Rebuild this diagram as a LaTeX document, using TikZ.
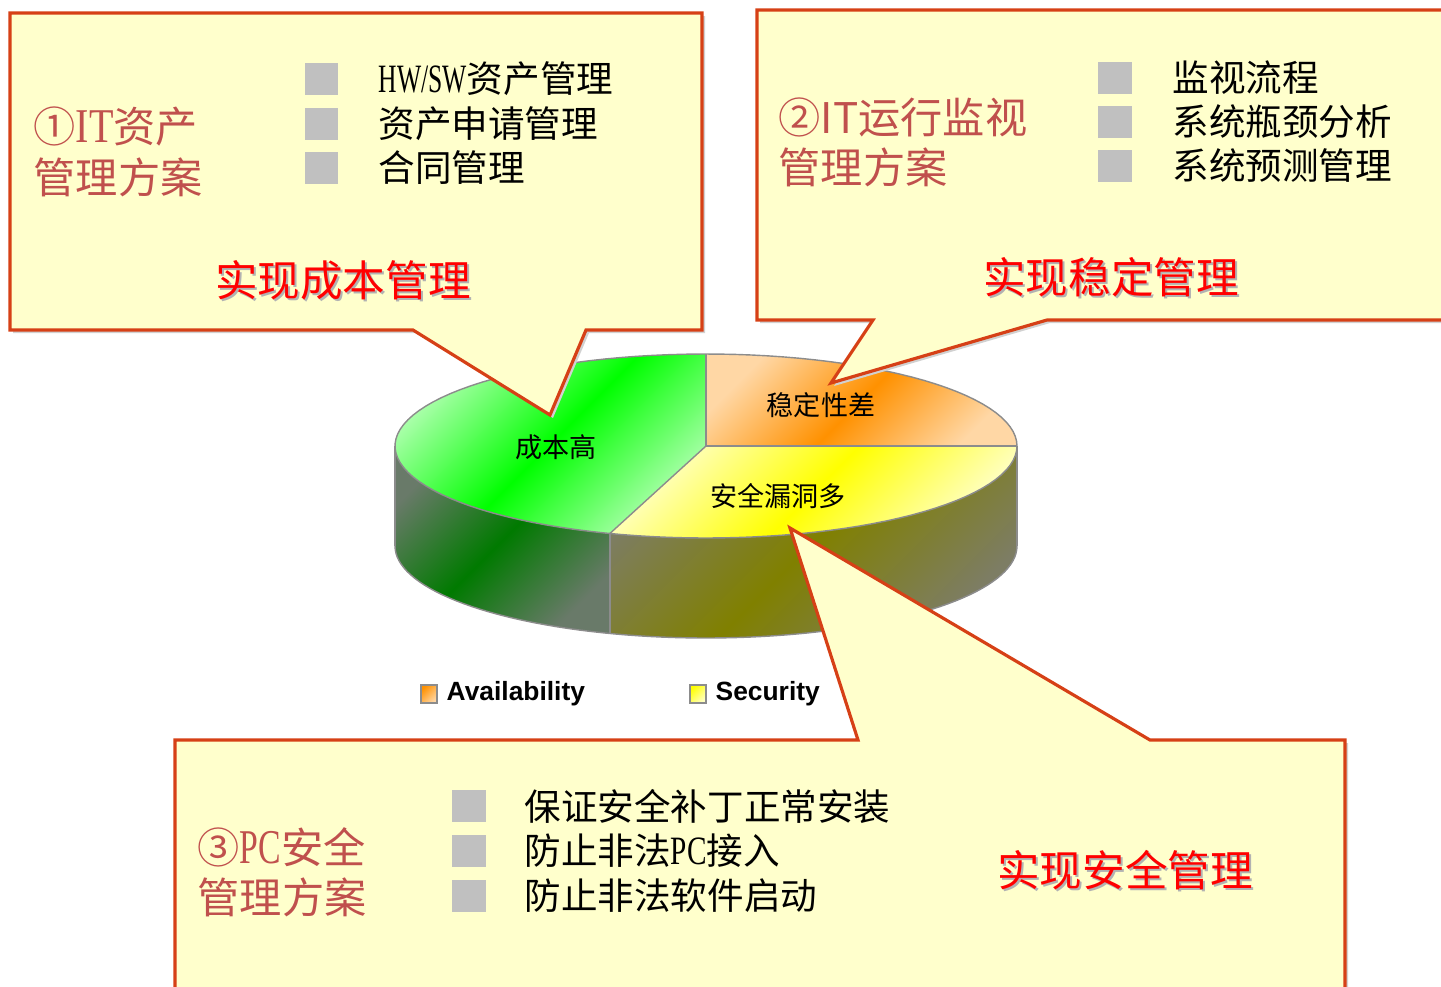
\documentclass[tikz,border=0pt]{standalone}
\usepackage{fontspec}
\usepackage{graphicx}
\setmainfont{Noto Sans CJK SC}
\newfontfamily\serifl{Liberation Serif}
\newfontfamily\arialf{Liberation Sans}
\definecolor{boxfill}{RGB}{255,255,204}
\definecolor{boxline}{RGB}{214,64,22}
\definecolor{titlec}{RGB}{192,80,77}
\definecolor{bulletc}{RGB}{192,192,192}
\definecolor{grnA}{RGB}{0,255,0}
\definecolor{grnL}{RGB}{175,255,175}
\definecolor{ornA}{RGB}{255,145,0}
\definecolor{ornL}{RGB}{255,215,165}
\definecolor{yelA}{RGB}{255,255,0}
\definecolor{yelL}{RGB}{255,255,195}
\definecolor{sgrnA}{RGB}{0,122,0}
\definecolor{sgrnL}{RGB}{105,122,105}
\definecolor{solvA}{RGB}{128,128,0}
\definecolor{solvL}{RGB}{125,125,100}
\definecolor{redt}{RGB}{255,0,0}
\tikzset{
  callout/.style={fill=boxfill, draw=boxline, line width=0.9pt, line join=miter},
  calloutshadow/.style={fill=black!18, xshift=0.03cm, yshift=-0.03cm},
  titletext/.style={anchor=west, text=titlec, font=\fontsize{12}{14}\selectfont, inner sep=0pt},
  itemtext/.style={anchor=west, text=black, font=\fontsize{10.4}{12}\selectfont, inner sep=0pt},
  goaltext/.style={text=redt, font=\fontsize{12.1}{14}\selectfont, inner sep=0pt},
  goalshadow/.style={text=black!30, font=\fontsize{12.1}{14}\selectfont, inner sep=0pt},
  bulletbox/.style={fill=bulletc, draw=none},
  pielabel/.style={text=black, font=\fontsize{7.7}{9}\selectfont, inner sep=0pt},
  legendtext/.style={anchor=west, text=black, font=\arialf\bfseries\fontsize{7.5}{9}\selectfont, inner sep=0pt},
  pieedge/.style={draw=black!45, line width=0.4pt},
}
\begin{document}
\begin{tikzpicture}[x=0.01cm,y=-0.01cm]
\useasboundingbox (0,0) rectangle (1441,987);
\clip (0,0) rectangle (1441,987);

% ---------- pie: side walls ----------
\shade[left color=sgrnL, right color=sgrnL, middle color=sgrnA, shading angle=45]
  plot[domain=108:180,samples=40,variable=\t] ({706+311*cos(\t)},{446+92*sin(\t)})
  -- plot[domain=180:108,samples=40,variable=\t] ({706+311*cos(\t)},{546+92*sin(\t)}) -- cycle;
\shade[left color=solvL, right color=solvL, middle color=solvA, shading angle=45]
  plot[domain=0:108,samples=40,variable=\t] ({706+311*cos(\t)},{446+92*sin(\t)})
  -- plot[domain=108:0,samples=40,variable=\t] ({706+311*cos(\t)},{546+92*sin(\t)}) -- cycle;
\draw[pieedge] plot[domain=0:180,samples=80,variable=\t] ({706+311*cos(\t)},{546+92*sin(\t)});
\draw[pieedge] (1017,446) -- (1017,546);
\draw[pieedge] (395,446) -- (395,546);
\draw[pieedge] ({706+311*cos(108)},{446+92*sin(108)}) -- ({706+311*cos(108)},{546+92*sin(108)});

% ---------- pie: top ----------
\shade[left color=grnL, right color=grnL, middle color=grnA, shading angle=45]
  (706,446) -- plot[domain=108:270,samples=60,variable=\t] ({706+311*cos(\t)},{446+92*sin(\t)}) -- cycle;
\shade[left color=ornL, right color=ornL, middle color=ornA, shading angle=45]
  (706,446) -- plot[domain=-90:0,samples=40,variable=\t] ({706+311*cos(\t)},{446+92*sin(\t)}) -- cycle;
\shade[left color=yelL, right color=yelL, middle color=yelA, shading angle=45]
  (706,446) -- plot[domain=0:108,samples=40,variable=\t] ({706+311*cos(\t)},{446+92*sin(\t)}) -- cycle;
\draw[pieedge] plot[domain=0:360,samples=120,variable=\t] ({706+311*cos(\t)},{446+92*sin(\t)});
\draw[pieedge] (706,354) -- (706,446) -- (1017,446);
\draw[pieedge] (706,446) -- ({706+311*cos(108)},{446+92*sin(108)});

\node[pielabel] (lblcost) at (556,447) {成本高};
\node[pielabel] (lblstab) at (821,405) {稳定性差};
\node[pielabel] (lblsec)  at (778,496) {安全漏洞多};

% ---------- legend ----------
\shade[left color=ornA, right color=ornL, shading angle=45, draw=black!45, line width=0.3pt] (421,685) rectangle (437,703);
\node[legendtext] (legA) at (446,694) {Availability};
\shade[left color=yelA, right color=yelL, shading angle=45, draw=black!45, line width=0.3pt] (690,685) rectangle (706,703);
\node[legendtext] (legS) at (715,694) {Security};

% ---------- callout 1 ----------
\fill[calloutshadow] (10,13) -- (702,13) -- (702,330) -- (586,330) -- (550,415) -- (413,330) -- (10,330) -- cycle;
\filldraw[callout] (10,13) -- (702,13) -- (702,330) -- (586,330) -- (550,415) -- (413,330) -- (10,330) -- cycle;
\node[titletext] (t1a) at (33,126) {①{\serifl\scalebox{0.95}[1.15]{IT}}资产};
\node[titletext] (t1b) at (33,177) {管理方案};
\fill[bulletbox] (305,63) rectangle (338,95);
\fill[bulletbox] (305,108) rectangle (338,140);
\fill[bulletbox] (305,152) rectangle (338,184);
\node[itemtext] (i1a) at (378,79) {{\serifl\scalebox{0.7}[1.1]{HW/SW}}资产管理};
\node[itemtext] (i1b) at (378,124) {资产申请管理};
\node[itemtext] (i1c) at (378,168) {合同管理};
\node[goalshadow] at (345,282) {实现成本管理};
\node[goaltext] (g1) at (343,280) {实现成本管理};

% ---------- callout 2 ----------
\fill[calloutshadow] (757,10) -- (1460,10) -- (1460,320) -- (1047,320) -- (831,383) -- (873,320) -- (757,320) -- cycle;
\filldraw[callout] (757,10) -- (1460,10) -- (1460,320) -- (1047,320) -- (831,383) -- (873,320) -- (757,320) -- cycle;
\node[titletext] (t2a) at (778,117) {②IT运行监视};
\node[titletext] (t2b) at (778,167) {管理方案};
\fill[bulletbox] (1098,62) rectangle (1132,94);
\fill[bulletbox] (1098,106) rectangle (1132,138);
\fill[bulletbox] (1098,150) rectangle (1132,182);
\node[itemtext] (i2a) at (1172,78) {监视流程};
\node[itemtext] (i2b) at (1172,122) {系统瓶颈分析};
\node[itemtext] (i2c) at (1172,166) {系统预测管理};
\node[goalshadow] at (1113,279) {实现稳定管理};
\node[goaltext] (g2) at (1111,277) {实现稳定管理};

% ---------- callout 3 ----------
\fill[calloutshadow] (175,740) -- (858,740) -- (790,528) -- (1150,740) -- (1345,740) -- (1345,1000) -- (175,1000) -- cycle;
\filldraw[callout] (175,740) -- (858,740) -- (790,528) -- (1150,740) -- (1345,740) -- (1345,1000) -- (175,1000) -- cycle;
\node[titletext] (t3a) at (197,847) {③{\serifl\scalebox{0.8}[1.15]{PC}}安全};
\node[titletext] (t3b) at (197,897) {管理方案};
\fill[bulletbox] (452,790) rectangle (486,822);
\fill[bulletbox] (452,835) rectangle (486,867);
\fill[bulletbox] (452,880) rectangle (486,912);
\node[itemtext] (i3a) at (524,806) {保证安全补丁正常安装};
\node[itemtext] (i3b) at (524,851) {防止非法{\serifl\scalebox{0.8}[1.1]{PC}}接入};
\node[itemtext] (i3c) at (524,896) {防止非法软件启动};
\node[goalshadow] at (1127,872) {实现安全管理};
\node[goaltext] (g3) at (1125,870) {实现安全管理};
\end{tikzpicture}
\end{document}
